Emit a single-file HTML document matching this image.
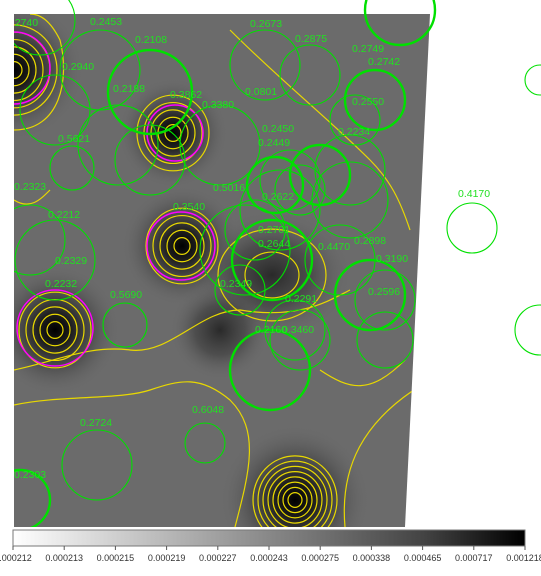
<!DOCTYPE html>
<html><head><meta charset="utf-8"><style>
html,body{margin:0;padding:0;background:#fff;width:541px;height:576px;overflow:hidden}
svg{display:block}
text{font-family:"Liberation Sans",sans-serif}
</style></head><body>
<svg id="s" width="541" height="576" viewBox="0 0 541 576">
<defs>
<radialGradient id="blob"><stop offset="0" stop-color="#000" stop-opacity="1"/><stop offset="0.25" stop-color="#151515" stop-opacity="0.9"/><stop offset="0.6" stop-color="#3a3a3a" stop-opacity="0.5"/><stop offset="1" stop-color="#6a6a6a" stop-opacity="0"/></radialGradient>
<radialGradient id="blob2"><stop offset="0" stop-color="#222" stop-opacity="0.9"/><stop offset="0.5" stop-color="#3a3a3a" stop-opacity="0.6"/><stop offset="1" stop-color="#6a6a6a" stop-opacity="0"/></radialGradient>
<linearGradient id="cb" x1="0" x2="1"><stop offset="0" stop-color="#fff"/><stop offset="0.5" stop-color="#888"/><stop offset="0.8" stop-color="#444"/><stop offset="1" stop-color="#000"/></linearGradient>
<clipPath id="clip"><polygon points="14,14 430,14 405,527 14,527"/></clipPath>
<clipPath id="clipL"><rect x="14" y="0" width="541" height="527"/></clipPath>
</defs>
<polygon points="14,14 430,14 405,527 14,527" fill="#6b6b6b"/>
<g id="blobs" clip-path="url(#clip)"></g>
<g id="contours" clip-path="url(#clip)" fill="none" stroke="#e8d800" stroke-width="1.2"></g>
<g id="mag" clip-path="url(#clipL)" fill="none" stroke="#ff00ff" stroke-width="1.5"></g>
<g id="circles" clip-path="url(#clipL)" fill="none" stroke="#00e000"></g>
<g id="labels" clip-path="url(#clipL)" font-size="10.5" fill="#22e022"></g>
<rect x="13" y="530" width="512" height="16" fill="url(#cb)" stroke="#777"/>
<g id="cbticks" font-size="9" fill="#333"></g>
</svg>
<script>
const NS='http://www.w3.org/2000/svg';
// sources: x, y, radius of dark blob
const srcX=[14,173,182,55,295,272,220];
const srcY=[70,133,246,330,500,275,330];
const srcR=[70,55,60,65,75,80,50];
const contourCounts=[6,5,5,5,8,2,0];
const magX=[14,175,181,55];
const magY=[68,133,246,328];
const magR=[36,28,34,38];
// green circles: x,y,r,thick
const cX=[40,100,150,55,72,118,150,220,265,310,375,355,400,290,280,255,272,300,320,350,340,370,385,385,300,270,295,472,540,540,30,55,125,97,205,20,240,275,350,245];
const cY=[20,70,92,110,168,145,160,145,65,75,100,120,10,180,210,230,260,190,175,170,260,295,300,340,340,370,330,228,80,330,240,260,325,465,443,500,290,185,200,250];
const cR=[35,40,42,35,22,40,35,40,35,30,30,25,35,30,40,30,40,25,30,35,35,35,30,28,30,40,30,25,15,25,35,40,22,35,20,30,25,28,38,45];
const cT=[0,0,1,0,0,0,0,0,0,0,1,0,1,0,0,0,1,0,1,0,0,1,0,0,0,1,0,0,0,0,0,0,0,0,0,1,0,1,0,0];
const lTxt=['0.2453','0.2108','0.2940','0.2188','0.5621','0.3380','0.2673','0.2875','0.2749','0.2742','0.2550','0.0801','0.2450','0.2449','0.2234','0.5016','0.2622','0.2701','0.2644','0.4470','0.2898','0.3190','0.2596','0.2329','0.2212','0.2323','0.5690','0.2349','0.2291','0.2160','0.3460','0.6048','0.2724','0.4170','0.2303','0.3862','0.3540','0.2740','0.2232'];
const lX=[90,135,62,113,58,202,250,295,352,368,352,245,262,258,338,213,262,258,258,318,354,376,368,55,48,14,110,220,285,255,282,192,80,458,14,170,173,6,45];
const lY=[25,43,70,92,142,108,27,42,52,65,105,95,132,146,135,191,200,233,247,250,244,262,295,264,218,190,298,287,302,333,333,413,426,197,478,98,210,26,287];
const cbLab=['0.000212','0.000213','0.000215','0.000219','0.000227','0.000243','0.000275','0.000338','0.000465','0.000717','0.001218'];
function mk(t,a,p){const e=document.createElementNS(NS,t);for(const k in a)e.setAttribute(k,a[k]);p.appendChild(e);return e;}
const G=id=>document.getElementById(id);
for(let i=0;i<srcX.length;i++){
 const e=mk('ellipse',{cx:srcX[i],cy:srcY[i],rx:srcR[i],ry:srcR[i]*(i==5?0.8:1),fill:i>=5?'url(#blob2)':'url(#blob)'},G('blobs'));
 
 
 for(let k=1;k<=contourCounts[i];k++){
  const r=i==5?k*27:(i==4?k*5+2:k*7+1);
  const c=mk('ellipse',{cx:srcX[i],cy:srcY[i],rx:r,ry:r*(i==5?0.85:1.05)},G('contours'));
  
  
 }
}
[['M14,370 C60,360 90,345 130,350 C170,355 200,310 240,310 C300,320 330,300 350,290'],
 ['M14,405 C60,395 120,400 150,390 C180,380 200,375 230,400 C260,430 250,470 235,527'],
 ['M345,527 C340,470 360,420 430,380'],['M320,370 C350,390 370,395 405,360'],
 ['M230,30 C280,80 330,120 370,160 C390,180 400,200 410,230'],
 ['M14,130 C60,130 70,80 60,40 C50,20 40,14 30,14'],
 ['M14,200 C30,210 40,200 50,190']].forEach(d=>{
 const p=mk('path',{d:d[0]},G('contours'));
 
 
});
for(let i=0;i<magX.length;i++){
 const c=mk('circle',{cx:magX[i],cy:magY[i],r:magR[i]},G('mag'));
 
 
}
for(let i=0;i<cX.length;i++){
 const c=mk('circle',{cx:cX[i],cy:cY[i],r:cR[i],'stroke-width':cT[i]?2.4:1.1},G('circles'));
 
 
}
for(let i=0;i<lTxt.length;i++){
 const t=mk('text',{x:lX[i],y:lY[i]},G('labels'));
 t.textContent=lTxt[i];
 
 
}
for(let i=0;i<cbLab.length;i++){
 const x=13+i*512/(cbLab.length-1);
 const l=mk('line',{x1:x,x2:x,y1:546,y2:550,stroke:'#555'},G('cbticks'));
 
 
 const t=mk('text',{x:x,y:561,'text-anchor':'middle'},G('cbticks'));
 t.textContent=cbLab[i];
 
 
}
</script>
</body></html>
